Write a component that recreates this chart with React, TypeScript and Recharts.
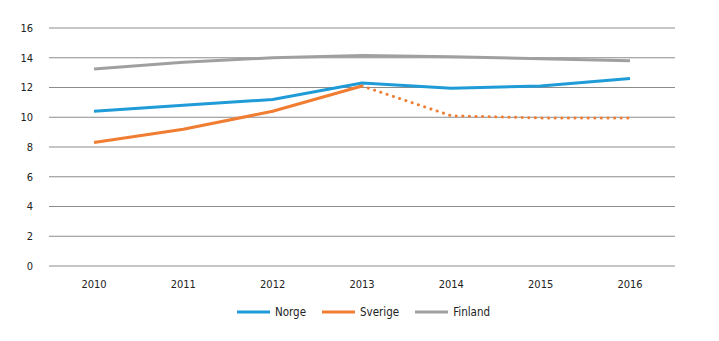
import React from "react";
import {
  LineChart,
  Line,
  XAxis,
  YAxis,
  CartesianGrid,
  Legend,
} from "recharts";

const years = ["2010", "2011", "2012", "2013", "2014", "2015", "2016"];
const norge = [10.4, 10.8, 11.2, 12.3, 11.95, 12.1, 12.6];
const sverige = [8.3, 9.2, 10.4, 12.1, null, null, null];
const sverigeEstimate = [null, null, null, 12.1, 10.1, 9.95, 9.95];
const finland = [13.25, 13.7, 14.0, 14.15, 14.07, 13.93, 13.8];
const yTicks = [0, 2, 4, 6, 8, 10, 12, 14, 16];

const BLUE = "#1f9bd7";
const ORANGE = "#f07d32";
const GREY = "#a0a0a0";
const FONT = "'Liberation Sans Narrow', 'DejaVu Sans Condensed', 'Open Sans', sans-serif";

const data = years.map((year, i) => ({
  year,
  norge: norge[i],
  sverige: sverige[i],
  sverigeEst: sverigeEstimate[i],
  finland: finland[i],
}));

const legendItems = [
  { name: "Norge", color: BLUE },
  { name: "Sverige", color: ORANGE },
  { name: "Finland", color: GREY },
];

const LegendContent = () => (
  <div
    style={{
      display: "flex",
      justifyContent: "center",
      fontFamily: FONT,
      fontSize: 11.5,
      color: "#222",
      paddingLeft: 52,
    }}
  >
    {legendItems.map((item) => (
      <div key={item.name} style={{ display: "flex", alignItems: "center", margin: "0 8px" }}>
        <svg width={33} height={6} style={{ marginRight: 5 }}>
          <line x1={0} y1={3} x2={33} y2={3} stroke={item.color} strokeWidth={3} />
        </svg>
        <span>{item.name}</span>
      </div>
    ))}
  </div>
);

const App: React.FC = () => {
  return (
    <div style={{ position: "absolute", left: 0, top: 0, background: "#fff" }}>
      <LineChart
        width={719}
        height={341}
        data={data}
        margin={{ top: 28, right: 44, left: 0, bottom: 27 }}
      >
        <CartesianGrid vertical={false} stroke="#8c8c8c" strokeWidth={1} />
        <XAxis
          dataKey="year"
          axisLine={false}
          tickLine={false}
          tickMargin={8}
          height={34}
          padding={{ left: 45, right: 45 }}
          tick={{ fontSize: 11, fill: "#222", fontFamily: FONT }}
        />
        <YAxis
          domain={[0, 16]}
          ticks={yTicks}
          width={49}
          axisLine={false}
          tickLine={false}
          tickMargin={10}
          tick={{ fontSize: 11, fill: "#222", fontFamily: FONT }}
        />
        <Legend verticalAlign="bottom" content={<LegendContent />} wrapperStyle={{ bottom: 22 }} />
        <Line
          dataKey="finland"
          name="Finland"
          stroke={GREY}
          strokeWidth={3}
          dot={false}
          isAnimationActive={false}
        />
        <Line
          dataKey="norge"
          name="Norge"
          stroke={BLUE}
          strokeWidth={3}
          dot={false}
          isAnimationActive={false}
        />
        <Line
          dataKey="sverige"
          name="Sverige"
          stroke={ORANGE}
          strokeWidth={3}
          dot={false}
          isAnimationActive={false}
        />
        <Line
          dataKey="sverigeEst"
          name="Sverige (estimat)"
          stroke={ORANGE}
          strokeWidth={3}
          strokeDasharray="0.1 6.5"
          strokeLinecap="round"
          dot={false}
          legendType="none"
          isAnimationActive={false}
        />
      </LineChart>
    </div>
  );
};

export default App;
